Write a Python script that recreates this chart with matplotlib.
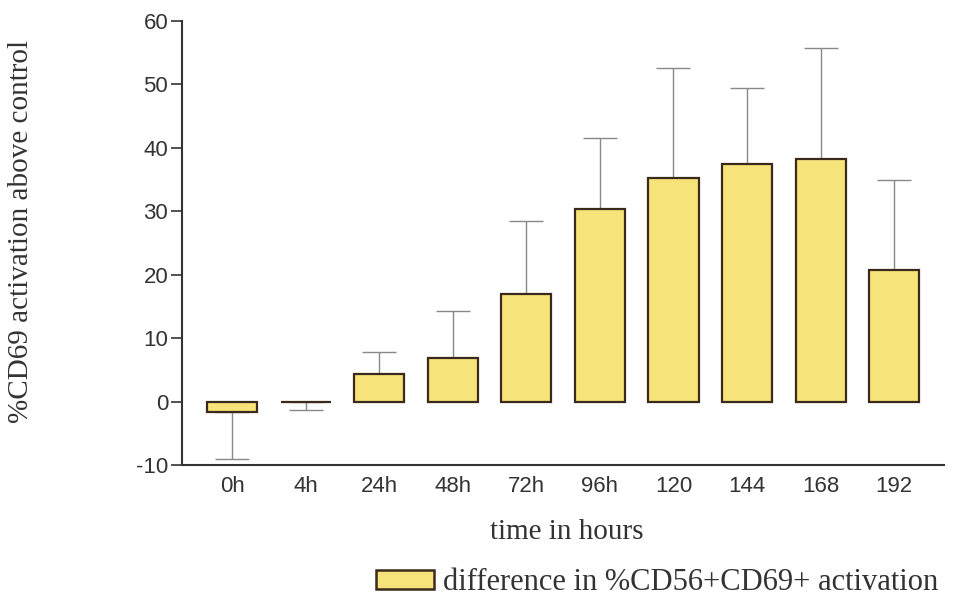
import matplotlib
matplotlib.use("Agg")
import matplotlib.pyplot as plt
from matplotlib.patches import Patch
from matplotlib.ticker import FixedLocator, FuncFormatter

# data
categories = ["0h", "4h", "24h", "48h", "72h", "96h", "120", "144", "168", "192"]
values = [-1.7, 0.0, 4.4, 6.9, 17.0, 30.3, 35.2, 37.5, 38.3, 20.8]
errors = [7.3, 1.4, 3.4, 7.4, 11.4, 11.2, 17.4, 12.0, 17.5, 14.2]

bar_fill = "#f6e47a"
bar_edge = "#3b2a1c"

fig = plt.figure(figsize=(9.6, 6.02), dpi=100)
ax = fig.add_axes([0.1896, 0.2276, 0.794, 0.7375])

x = range(len(categories))
ax.bar(x, values, width=0.68, color=bar_fill, edgecolor=bar_edge, linewidth=1.6, zorder=2)

# one-sided error bars, pointing away from zero (zero bar points down)
lower = [e if v <= 0 else 0 for v, e in zip(values, errors)]
upper = [e if v > 0 else 0 for v, e in zip(values, errors)]
ax.errorbar(x, values, yerr=[lower, upper], fmt="none", ecolor="#888888",
            elinewidth=1.0, capsize=12, capthick=1.0, zorder=1)

ax.set_xlim(-0.68, 9.68)
ax.set_ylim(-10, 60)
ax.yaxis.set_major_locator(FixedLocator([-10, 0, 10, 20, 30, 40, 50, 60]))
ax.yaxis.set_major_formatter(FuncFormatter(lambda v, p: f"{int(v)}"))
ax.set_xticks(list(x))
ax.set_xticklabels(categories)

for s in ["top", "right"]:
    ax.spines[s].set_visible(False)
for s in ["left", "bottom"]:
    ax.spines[s].set_color("#333333")
    ax.spines[s].set_linewidth(1.5)

ax.tick_params(axis="y", length=8, width=1.2, color="#333333", labelsize=16,
               labelcolor="#333333", pad=2)
ax.tick_params(axis="x", length=0, labelsize=16, labelcolor="#333333", pad=8)
for lab in ax.get_xticklabels() + ax.get_yticklabels():
    lab.set_family("Liberation Sans")

fig.text(0.59, 0.116, "time in hours", family="Liberation Serif", fontsize=21,
         color="#333333", ha="center", va="center")
fig.text(0.022, 0.615, "%CD69 activation above control", family="Liberation Serif",
         fontsize=21, color="#333333", rotation=90, ha="center", va="center")

handle = Patch(facecolor=bar_fill, edgecolor=bar_edge, linewidth=1.8)
fig.legend([handle], ["difference in %CD56+CD69+ activation"], loc="lower right",
           bbox_to_anchor=(1.006, -0.038), frameon=False,
           prop={"family": "Liberation Serif", "size": 22},
           handlelength=1.9, handleheight=0.55, handletextpad=0.3, labelcolor="#333333")

fig.savefig("out.png", dpi=100, facecolor="white")
